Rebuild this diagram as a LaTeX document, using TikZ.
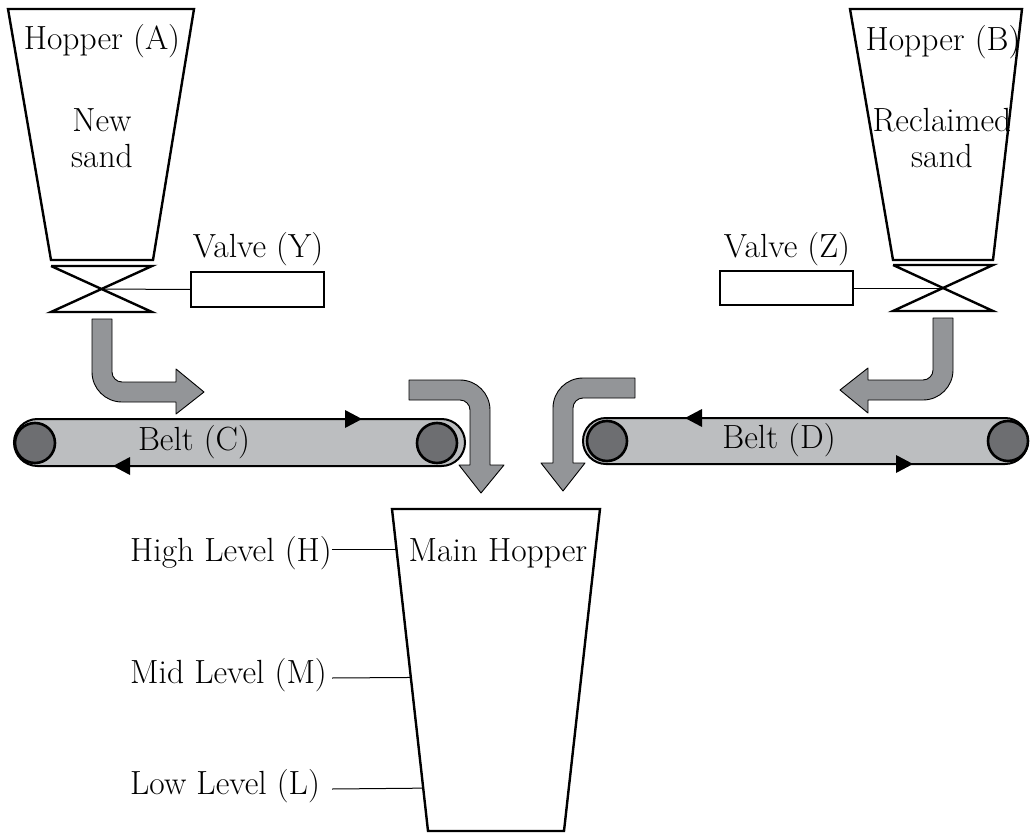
\documentclass[tikz,border=0pt]{standalone}
\usetikzlibrary{calc}
\definecolor{flowgray}{HTML}{939598}
\definecolor{beltgray}{HTML}{BCBEC0}
\definecolor{rollgray}{HTML}{6D6E71}
\begin{document}
\begin{tikzpicture}[x=1pt,y=-1pt,
  lbl/.style={inner sep=0pt,font=\fontsize{33.5}{38}\selectfont,anchor=base},
  hopperline/.style={line width=2.4pt,line join=miter},
  valveline/.style={line width=2.4pt},
  valvebox/.style={line width=2pt},
  thinline/.style={line width=1pt},
  flow/.style={fill=flowgray,draw=black,line width=0.9pt,line join=round},
  belt/.style={fill=beltgray,draw=black,line width=2pt},
  roller/.style={fill=rollgray,draw=black,line width=2.6pt},
  tri/.style={fill=black}]
\useasboundingbox (0,0) rectangle (1030,834);
\fill[white] (0,0) rectangle (1030,834);

% ---------- Hopper A ----------
\coordinate (a1) at (8,9);
\coordinate (a2) at (194,9);
\coordinate (a3) at (153,260);
\coordinate (a4) at (51,260);
\draw[hopperline] (a1) -- (a2) -- (a3) -- (a4) -- cycle;
\node[lbl] (hA) at (102,50) {Hopper (A)};
\node[lbl] (nA1) at (102,132) {New};
\node[lbl] (nA2) at (102,168) {sand};

% valve Y
\coordinate (y1) at (51,266);
\coordinate (y2) at (152,266);
\coordinate (y3) at (152,312);
\coordinate (y4) at (51,312);
\coordinate (yc) at (101.5,289);
\draw[valveline] (y1) -- (y2) -- (y4) -- (y3) -- (y1);
\node[draw,valvebox,minimum width=133pt,minimum height=35pt,inner sep=0pt] (vY) at (257.5,289.5) {};
\draw[thinline] (yc) -- (vY.west);
\node[lbl] (lY) at (258,258) {Valve (Y)};

% ---------- Hopper B ----------
\coordinate (b1) at (850,9);
\coordinate (b2) at (1022,9);
\coordinate (b3) at (993,260);
\coordinate (b4) at (893,260);
\draw[hopperline] (b1) -- (b2) -- (b3) -- (b4) -- cycle;
\node[lbl] (hB) at (943,51) {Hopper (B)};
\node[lbl] (nB1) at (942,132) {Reclaimed};
\node[lbl] (nB2) at (942,168) {sand};

% valve Z
\coordinate (z1) at (893,265);
\coordinate (z2) at (993,265);
\coordinate (z3) at (993,311);
\coordinate (z4) at (893,311);
\coordinate (zc) at (943,288);
\draw[valveline] (z1) -- (z2) -- (z4) -- (z3) -- (z1);
\node[draw,valvebox,minimum width=133pt,minimum height=34pt,inner sep=0pt] (vZ) at (786.5,288) {};
\draw[thinline] (vZ.east) -- (zc);
\node[lbl] (lZ) at (787,258) {Valve (Z)};

% ---------- Belt C ----------
\draw[belt,rounded corners=23.5pt] (14,419) rectangle (465,466);
\node[roller,circle,minimum size=40pt,inner sep=0pt] (rC1) at (35,443) {};
\node[roller,circle,minimum size=40pt,inner sep=0pt] (rC2) at (437,443) {};
\fill[tri] (345,410) -- (362,419) -- (345,428) -- cycle;
\fill[tri] (130,457) -- (113,466) -- (130,475) -- cycle;
\node[lbl] (lC) at (194,450) {Belt (C)};

% ---------- Belt D ----------
\draw[belt,rounded corners=23pt] (583,418) rectangle (1028,464);
\node[roller,circle,minimum size=40pt,inner sep=0pt] (rD1) at (607,441) {};
\node[roller,circle,minimum size=40pt,inner sep=0pt] (rD2) at (1008,441) {};
\fill[tri] (702,409) -- (685,418) -- (702,427) -- cycle;
\fill[tri] (896,455) -- (913,464) -- (896,473) -- cycle;
\node[lbl] (lD) at (779,448) {Belt (D)};

% ---------- Flow arrows ----------
% from valve Y to belt C
\draw[flow] (92,319) -- (112,319) -- (112,372)
  .. controls (112,377.5) and (116.5,382) .. (122,382)
  -- (176,382) -- (176,369) -- (204,392) -- (176,414) -- (176,402) -- (122,402)
  .. controls (105.4,402) and (92,388.6) .. (92,372) -- cycle;
% from belt C to main hopper
\draw[flow] (409,380) -- (460,380)
  .. controls (476.6,380) and (490,393.4) .. (490,410)
  -- (490,465) -- (504,465) -- (481,493) -- (459,465) -- (470,465) -- (470,410)
  .. controls (470,404.5) and (465.5,400) .. (460,400) -- (409,400) -- cycle;
% from belt D to main hopper
\draw[flow] (635,378) -- (583,378)
  .. controls (566.4,378) and (553,391.4) .. (553,408)
  -- (553,463) -- (541,463) -- (563,491) -- (585,463) -- (573,463) -- (573,408)
  .. controls (573,402.5) and (577.5,398) .. (583,398) -- (635,398) -- cycle;
% from valve Z to belt D
\draw[flow] (933,318) -- (953,318) -- (953,370)
  .. controls (953,386.6) and (939.6,400) .. (923,400)
  -- (868,400) -- (868,413) -- (840,390) -- (868,368) -- (868,380) -- (923,380)
  .. controls (928.5,380) and (933,375.5) .. (933,370) -- cycle;

% ---------- Main hopper ----------
\coordinate (m1) at (392,509);
\coordinate (m2) at (600,509);
\coordinate (m3) at (564,831);
\coordinate (m4) at (428,831);
\draw[hopperline] (m1) -- (m2) -- (m3) -- (m4) -- cycle;
\node[lbl] (lM) at (498,561) {Main Hopper};

\node[lbl,anchor=base west] (lvH) at (130,561) {High Level (H)};
\node[lbl,anchor=base west] (lvM) at (130,683) {Mid Level (M)};
\node[lbl,anchor=base west] (lvL) at (130,794) {Low Level (L)};
\coordinate (pH) at ($(m1)!0.1273!(m4)$);
\coordinate (pM) at ($(m1)!0.5232!(m4)$);
\coordinate (pL) at ($(m1)!0.8669!(m4)$);
\draw[thinline] (lvH.east |- pH) -- (pH);
\draw[thinline] (332,678) -- (pM);
\draw[thinline] (332,789) -- (pL);
\end{tikzpicture}
\end{document}
